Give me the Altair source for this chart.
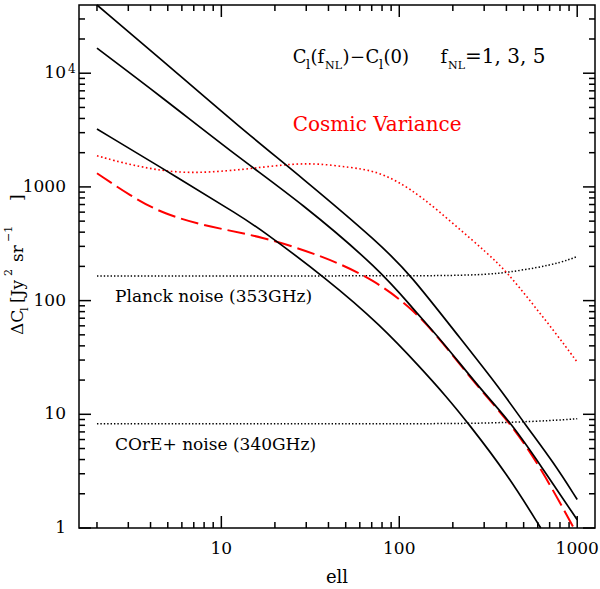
import altair as alt
import pandas as pd

# Delta C_ell = C_ell(f_NL) - C_ell(0)  [Jy^2 sr^-1] versus multipole ell
ell_f5 = [2, 4.5, 12.8, 27.8, 78.5, 116, 207, 372, 500, 738, 1000]
dcl_f5 = [39800, 13600, 3300, 1240, 313, 167, 52.6, 16.5, 8.47, 3.76, 1.78]

ell_f3 = [2, 4.54, 12.8, 27.8, 78.5, 120, 171, 287, 423, 624, 1000]
dcl_f3 = [16600, 6310, 1760, 735, 185, 83.8, 45.6, 16.5, 8.5, 3.54, 1.18]

ell_f1 = [2, 5.88, 12.8, 16.6, 39.5, 78.5, 132, 182, 242, 406, 624]
dcl_f1 = [3230, 1172, 553, 425, 154, 60.8, 25.6, 14.6, 8.49, 2.95, 1.0]

ell_dash = [2, 3.08, 4.72, 8.67, 16.6, 37.5, 71.7, 120, 171, 287, 423, 624, 957]
dcl_dash = [1320, 835, 576, 442, 369, 246, 154, 83.8, 44.8, 16.2, 8.3, 3.4, 1.0]

# cosmic variance
ell_cv = [2, 3.08, 5.87, 11.2, 16.6, 24.5, 34.6, 53.2, 72, 97.4, 135, 203, 313, 405, 548, 742, 1000]
dcl_cv = [1880, 1556, 1297, 1387, 1485, 1588, 1611, 1485, 1387, 1132, 808, 470, 261, 177, 98, 54, 28.8]

# instrumental noise levels
ell_planck = [2, 20, 100, 200, 313, 405, 598, 808, 1000]
dcl_planck = [165, 165, 165, 166, 170, 177, 195, 216, 244]

ell_core = [2, 20, 100, 250, 423, 710, 1000]
dcl_core = [8.25, 8.25, 8.25, 8.3, 8.5, 8.8, 9.13]

# axis ticks and labels
x_major = [10, 100, 1000]
x_labels = ["10", "100", "1000"]
y_major = [1, 10, 100, 1000, 10000]
y_labels = ["1", "10", "100", "1000", "10"]

W, H = 516, 523
L, T = 79, 5
XDOM = [10 ** 0.2, 10 ** 3.1]
YDOM = [1, 10 ** 4.6]
FONT = "DejaVu Serif"
RED = "#ff0000"
MAJOR_LEN, MINOR_LEN = 12, 6
TICK_W = 1.5

xs = alt.Scale(type="log", domain=XDOM, nice=False)
ys = alt.Scale(type="log", domain=YDOM, nice=False)

x_minor = [m * 10 ** d for d in range(0, 4) for m in range(2, 10)
           if XDOM[0] <= m * 10 ** d <= XDOM[1]]
y_minor = [m * 10 ** d for d in range(0, 5) for m in range(2, 10)
           if m * 10 ** d <= YDOM[1]]


def curve(ells, vals, color, width, dash=None):
    df = pd.DataFrame({"ell": ells, "dcl": vals})
    kw = dict(color=color, strokeWidth=width, interpolate="basis")
    if dash:
        kw["strokeDash"] = dash
    return alt.Chart(df).mark_line(**kw).encode(
        x=alt.X("ell:Q", scale=xs, axis=None),
        y=alt.Y("dcl:Q", scale=ys, axis=None),
    )


def xticks(vals, length):
    """Inward ticks on the bottom and top edges."""
    src = pd.DataFrame({"ell": vals})
    xe = alt.X("ell:Q", scale=xs, axis=None)
    bottom = alt.Chart(src).mark_rule(color="black", strokeWidth=TICK_W).encode(
        x=xe, y=alt.value(H - length), y2=alt.value(H))
    top = alt.Chart(src).mark_rule(color="black", strokeWidth=TICK_W).encode(
        x=xe, y=alt.value(0), y2=alt.value(length))
    return [bottom, top]


def yticks(vals, length):
    """Inward ticks on the left and right edges."""
    src = pd.DataFrame({"dcl": vals})
    ye = alt.Y("dcl:Q", scale=ys, axis=None)
    left = alt.Chart(src).mark_rule(color="black", strokeWidth=TICK_W).encode(
        y=ye, x=alt.value(0), x2=alt.value(length))
    right = alt.Chart(src).mark_rule(color="black", strokeWidth=TICK_W).encode(
        y=ye, x=alt.value(W - length), x2=alt.value(W))
    return [left, right]


def txt(s, x, y, size, color="black", angle=0, align="left", baseline="alphabetic"):
    """Text placed in page pixels (converted to plot-area pixels)."""
    return alt.Chart(pd.DataFrame({"t": [s]})).mark_text(
        font=FONT, fontSize=size, color=color, angle=angle,
        align=align, baseline=baseline,
    ).encode(text="t:N", x=alt.value(x - L), y=alt.value(y - T))


ticks = (xticks(x_major, MAJOR_LEN) + xticks(x_minor, MINOR_LEN)
         + yticks(y_major, MAJOR_LEN) + yticks(y_minor, MINOR_LEN))

lines = [
    curve(ell_planck, dcl_planck, "black", 1.5, [1.4, 2]),
    curve(ell_core, dcl_core, "black", 1.5, [1.4, 2]),
    curve(ell_cv, dcl_cv, RED, 1.6, [1.6, 2.6]),
    curve(ell_dash, dcl_dash, RED, 2, [18, 6]),
    curve(ell_f1, dcl_f1, "black", 1.7),
    curve(ell_f3, dcl_f3, "black", 1.7),
    curve(ell_f5, dcl_f5, "black", 1.7),
]

xlab = alt.Chart(pd.DataFrame({"ell": x_major, "lab": x_labels})).mark_text(
    font=FONT, fontSize=17, baseline="top", align="center"
).encode(x=alt.X("ell:Q", scale=xs, axis=None), y=alt.value(H + 13), text="lab:N")

ylab = alt.Chart(pd.DataFrame({"dcl": y_major, "lab": y_labels})).mark_text(
    font=FONT, fontSize=17, baseline="middle", align="right"
).encode(y=alt.Y("dcl:Q", scale=ys, axis=None), x=alt.value(-13), text="lab:N")

yexp = alt.Chart(pd.DataFrame({"dcl": [10000], "lab": ["4"]})).mark_text(
    font=FONT, fontSize=12, baseline="middle", align="left", dy=-4
).encode(y=alt.Y("dcl:Q", scale=ys, axis=None), x=alt.value(-11), text="lab:N")

texts = [
    # C_l(f_NL) - C_l(0)    f_NL = 1, 3, 5
    txt("C", 292.7, 63, 18),
    txt("l", 306, 68.5, 13),
    txt("(f", 310.5, 63, 18),
    txt("NL", 325, 68.5, 11),
    txt(")", 342.5, 63, 18),
    txt("\u2212", 350, 63, 18),
    txt("C", 365.5, 63, 18),
    txt("l", 379, 68.5, 13),
    txt("(0)", 383.5, 63, 18),
    txt("f", 440.5, 63, 18),
    txt("NL", 448, 68.5, 11),
    txt("=1, 3, 5", 465, 63, 20),
    txt("Cosmic Variance", 292.7, 131, 20, RED),
    txt("Planck noise (353GHz)", 115, 301.7, 17),
    txt("COrE+ noise (340GHz)", 115, 450, 17),
    # axis titles
    txt("ell", 337, 583, 18, align="center"),
    txt("\u0394C", 23.3, 335, 17, angle=270),
    txt("l", 27.5, 311, 11, angle=270),
    txt("[Jy", 23.3, 303, 17, angle=270),
    txt("2", 11.5, 276, 11, angle=270),
    txt("sr", 23.3, 262, 17, angle=270),
    txt("\u22121", 11.5, 242, 11, angle=270),
    txt("]", 23.3, 201, 17, angle=270),
]

chart = alt.layer(*ticks, *lines, xlab, ylab, yexp, *texts).properties(
    width=W,
    height=H,
    padding={"left": L, "top": T, "right": 600 - L - W, "bottom": 589 - T - H},
    autosize=alt.AutoSizeParams(type="none"),
).configure_view(stroke="black", strokeWidth=1.5)

chart.save("out.html", embed_options={"renderer": "svg", "actions": False})
